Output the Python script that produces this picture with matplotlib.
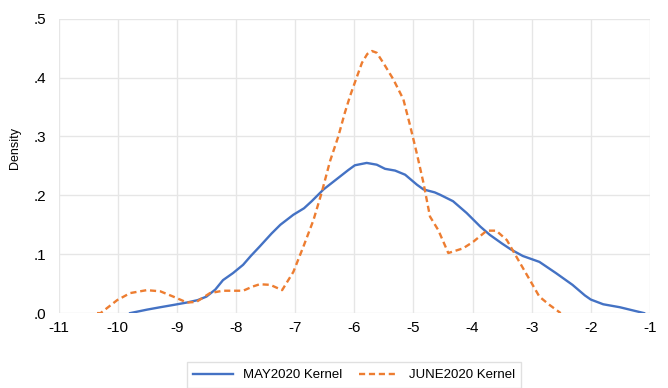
import matplotlib.pyplot as plt
from matplotlib.ticker import FuncFormatter

plt.rcParams['font.family'] = ['Liberation Sans', 'DejaVu Sans']
plt.rcParams['axes.unicode_minus'] = False

# MAY2020 kernel density
may_x = [-9.79, -9.50, -9.28, -9.05, -8.83, -8.65, -8.50, -8.35, -8.22, -8.05,
         -7.88, -7.75, -7.60, -7.40, -7.25, -7.03, -6.85, -6.72, -6.52, -6.24,
         -6.10, -5.99, -5.79, -5.62, -5.48, -5.31, -5.14, -4.94, -4.83, -4.64,
         -4.55, -4.33, -4.10, -3.87, -3.71, -3.50, -3.35, -3.15, -2.87, -2.59,
         -2.31, -2.10, -2.00, -1.79, -1.51, -1.10]
may_y = [0.000, 0.006, 0.010, 0.014, 0.018, 0.022, 0.028, 0.040, 0.056, 0.068,
         0.082, 0.097, 0.113, 0.135, 0.150, 0.167, 0.178, 0.190, 0.210, 0.232,
         0.243, 0.251, 0.255, 0.252, 0.245, 0.242, 0.235, 0.218, 0.210, 0.205,
         0.201, 0.190, 0.170, 0.147, 0.133, 0.118, 0.108, 0.097, 0.087, 0.068,
         0.048, 0.030, 0.023, 0.015, 0.010, 0.000]

# JUNE2020 kernel density
june_x = [-10.35, -10.29, -10.15, -10.01, -9.79, -9.51, -9.28, -9.06, -8.83, -8.67,
          -8.44, -8.22, -7.88, -7.72, -7.60, -7.42, -7.22, -7.03, -6.86, -6.69,
          -6.55, -6.41, -6.27, -6.16, -6.07, -5.96, -5.87, -5.78, -5.70, -5.62,
          -5.51, -5.34, -5.17, -5.06, -4.94, -4.83, -4.72, -4.58, -4.41, -4.16,
          -3.99, -3.76, -3.60, -3.42, -3.26, -3.03, -2.87, -2.70, -2.51]
june_y = [0.000, 0.000, 0.011, 0.022, 0.034, 0.039, 0.037, 0.028, 0.018, 0.019,
          0.034, 0.038, 0.038, 0.045, 0.049, 0.048, 0.039, 0.070, 0.113, 0.158,
          0.205, 0.258, 0.300, 0.340, 0.369, 0.400, 0.425, 0.440, 0.445, 0.442,
          0.425, 0.397, 0.363, 0.320, 0.270, 0.221, 0.164, 0.141, 0.102, 0.110,
          0.121, 0.140, 0.140, 0.124, 0.096, 0.056, 0.028, 0.014, 0.000]

x_ticks = [-11, -10, -9, -8, -7, -6, -5, -4, -3, -2, -1]
y_ticks = [0.0, 0.1, 0.2, 0.3, 0.4, 0.5]

fig = plt.figure(figsize=(6.68, 3.88), dpi=100)
ax = fig.add_axes([0.0877, 0.193, 0.8853, 0.759])

ax.plot(may_x, may_y, color="#4472C4", lw=1.7, label="MAY2020 Kernel",
        solid_joinstyle="round")
ax.plot(june_x, june_y, color="#ED7D31", lw=1.7, linestyle=(0, (2.6, 1.6)),
        label="JUNE2020 Kernel")

ax.set_xlim(-11, -1)
ax.set_ylim(0, 0.5)
ax.set_xticks(x_ticks)
ax.set_yticks(y_ticks)
ax.yaxis.set_major_formatter(FuncFormatter(lambda v, p: f"{v:.1f}".lstrip("0")))
ax.tick_params(length=0, labelsize=11, colors="#000000")
ax.tick_params(axis="x", pad=6)
ax.tick_params(axis="y", pad=9)
ax.grid(True, color="#E6E6E6", lw=1)
ax.set_axisbelow(True)
for s in ax.spines.values():
    s.set_visible(False)

ax.set_ylabel("Density", fontsize=9)
ax.yaxis.set_label_coords(-0.063, 0.56)

# legend box runs off the bottom edge like the original
fig.legend(loc="upper center", bbox_to_anchor=(0.53, 0.066), ncol=2,
           fontsize=9.5, frameon=True, fancybox=False, edgecolor="#D9D9D9",
           handlelength=3.0, columnspacing=1.2, borderpad=0.5, borderaxespad=0)

fig.savefig("out.png", dpi=100)
